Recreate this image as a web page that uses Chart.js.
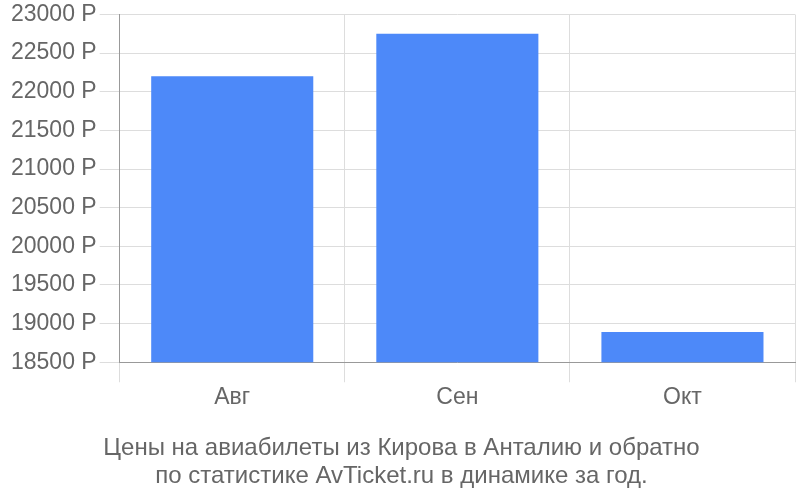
<!DOCTYPE html>
<html>
<head>
<meta charset="utf-8">
<script src="https://cdn.jsdelivr.net/npm/chart.js@4"></script>
<style>
  body { margin: 0; background: #fff; }
</style>
</head>
<body>
<canvas id="chart" width="800" height="500"></canvas>
<script>
const months = ['Авг', 'Сен', 'Окт'];
const prices = [22200, 22750, 18890];
const titleLines = [
  'Цены на авиабилеты из Кирова в Анталию и обратно',
  'по статистике AvTicket.ru в динамике за год.'
];

const ctx = document.getElementById('chart').getContext('2d');
new Chart(ctx, {
  type: 'bar',
  data: {
    labels: months,
    datasets: [{
      data: prices,
      backgroundColor: '#4d89f9',
      barPercentage: 0.72,
      categoryPercentage: 1
    }]
  },
  options: {
    responsive: false,
    animation: false,
    layout: { padding: { left: 8, right: 5, top: 1, bottom: 10 } },
    plugins: {
      legend: { display: false },
      tooltip: { enabled: false },
      title: {
        display: true,
        position: 'bottom',
        text: titleLines,
        color: '#666',
        font: { family: 'Liberation Sans', size: 24, weight: 'normal', lineHeight: 1.17 },
        padding: { top: 20, bottom: 0 }
      }
    },
    scales: {
      x: {
        grid: { color: '#ddd', tickLength: 20, offset: true },
        border: { color: '#999' },
        ticks: { color: '#666', font: { family: 'Liberation Sans', size: 23 }, padding: 2 }
      },
      y: {
        min: 18500,
        max: 23000,
        grid: { color: '#ddd', tickLength: 20 },
        border: { color: '#999' },
        ticks: {
          stepSize: 500,
          color: '#666',
          padding: 3,
          font: { family: 'Liberation Sans', size: 23, lineHeight: 1 },
          callback: v => v + ' Р'
        }
      }
    }
  }
});
</script>
</body>
</html>
